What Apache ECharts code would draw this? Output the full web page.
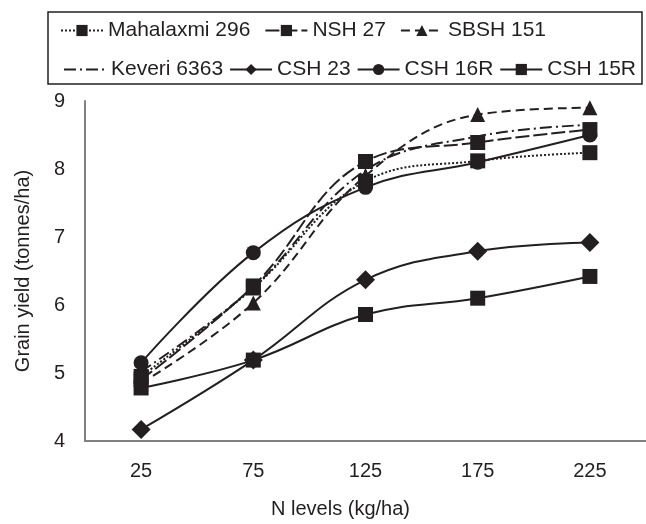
<!DOCTYPE html>
<html>
<head>
<meta charset="utf-8">
<script src="https://cdn.jsdelivr.net/npm/echarts@6/dist/echarts.min.js"></script>
<style>
  html, body { margin: 0; padding: 0; background: #fff; }
  #chart { width: 646px; height: 524px; }
</style>
</head>
<body>
<div id="chart"></div>
<script>
// N levels (kg/ha)
const nLevels = ['25', '75', '125', '175', '225'];

// grain yield, tonnes/ha
const mahalaxmi296 = [4.95, 6.25, 7.82, 8.12, 8.24];
const nsh27 = [4.90, 6.28, 8.11, 8.39, 8.58];
const sbsh151 = [4.85, 6.03, 7.90, 8.80, 8.90];
const keveri6363 = [5.02, 6.26, 7.98, 8.48, 8.65];
const csh23 = [4.17, 5.19, 6.37, 6.79, 6.92];
const csh16r = [5.15, 6.77, 7.73, 8.10, 8.50];
const csh15r = [4.78, 5.19, 5.86, 6.10, 6.42];

const ink = '#231f20';
const font = 'Liberation Sans, Arial, sans-serif';

function line(name, data, symbol, size, dash) {
  return {
    name: name,
    type: 'line',
    data: data,
    smooth: 0.4,
    symbol: symbol,
    symbolSize: size,
    showSymbol: symbol !== 'none',
    itemStyle: { color: ink },
    lineStyle: { color: ink, width: 2, type: dash },
    emphasis: { disabled: true }
  };
}

const legendText = { fontSize: 21, color: ink, fontFamily: font };

const chart = echarts.init(document.getElementById('chart'));
chart.setOption({
  animation: false,
  textStyle: { fontFamily: font, color: ink },
  grid: { left: 85, right: -3, top: 101, bottom: 79, containLabel: false },
  graphic: [{
    type: 'rect',
    shape: { x: 48, y: 12, width: 594, height: 72 },
    style: { fill: 'none', stroke: ink, lineWidth: 1.5 }
  }],
  legend: [{
    data: ['Mahalaxmi 296', 'NSH 27', 'SBSH 151'],
    left: 55, top: 15, width: 590,
    itemWidth: 42, itemHeight: 14, itemGap: 14,
    textStyle: legendText,
    selectedMode: false
  }, {
    data: [
      { name: 'Keveri 6363', itemStyle: { opacity: 0 } },
      'CSH 23', 'CSH 16R', 'CSH 15R'
    ],
    left: 58, top: 54, width: 600,
    itemWidth: 42, itemHeight: 14, itemGap: 6,
    textStyle: legendText,
    selectedMode: false
  }],
  xAxis: {
    type: 'category',
    data: nLevels,
    boundaryGap: true,
    axisLine: { lineStyle: { color: '#808080', width: 2 } },
    axisTick: { show: false },
    axisLabel: { fontSize: 20, color: ink, margin: 20 },
    name: 'N levels (kg/ha)',
    nameLocation: 'middle',
    nameGap: 58,
    nameTextStyle: { fontSize: 20, color: ink, padding: [0, 50, 0, 0] }
  },
  yAxis: {
    type: 'value',
    min: 4, max: 9, interval: 1,
    axisLine: { show: true, lineStyle: { color: '#808080', width: 2 } },
    axisTick: { show: false },
    splitLine: { show: false },
    axisLabel: { fontSize: 20, color: ink, margin: 20 },
    name: 'Grain yield (tonnes/ha)',
    nameLocation: 'middle',
    nameRotate: 90,
    nameGap: 52,
    nameTextStyle: { fontSize: 20, color: ink }
  },
  series: [
    line('Mahalaxmi 296', mahalaxmi296, 'rect', 15, [2, 2]),
    line('NSH 27', nsh27, 'rect', 15, [14, 4]),
    line('SBSH 151', sbsh151, 'triangle', 15, [9, 5]),
    line('Keveri 6363', keveri6363, 'none', 0, [12, 4, 2, 4]),
    line('CSH 23', csh23, 'diamond', 19, 'solid'),
    line('CSH 15R', csh15r, 'rect', 15, 'solid'),
    line('CSH 16R', csh16r, 'circle', 15, 'solid')
  ]
});
</script>
</body>
</html>
